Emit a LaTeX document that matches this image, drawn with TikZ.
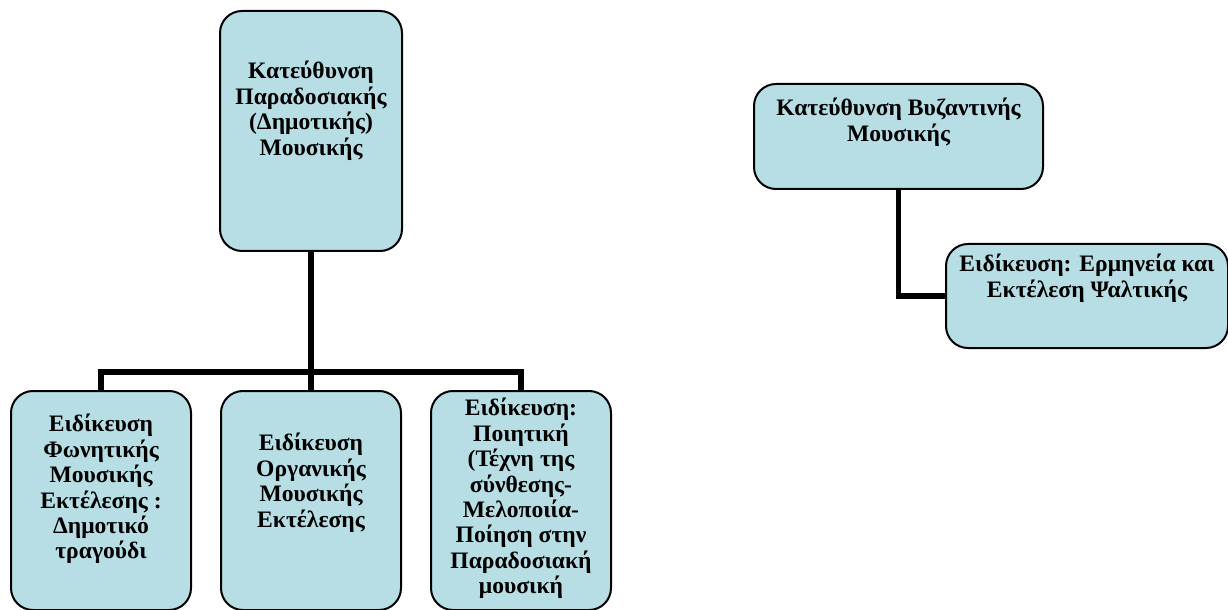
\documentclass[tikz,border=0pt]{standalone}
\usepackage{fontspec}
\setmainfont{Liberation Serif}
\usepackage{tikz}
\usetikzlibrary{positioning}
\definecolor{boxfill}{RGB}{183,222,228}

\begin{document}
\begin{tikzpicture}[x=0.5pt,y=-0.5pt,
  box/.style={draw,line width=1pt,fill=boxfill,rounded corners=11pt,inner sep=0pt,anchor=north west},
  txt/.style={inner sep=0pt,align=center,font=\fontsize{11.8}{12.7}\selectfont\bfseries},
  conn/.style={line width=2.6pt}]
\useasboundingbox (0,0) rectangle (1228,610);
\node[box,minimum width=91pt,minimum height=120pt] (trad) at (219,10) {};
\node[box,minimum width=144.5pt,minimum height=52.5pt] (byz) at (753,83) {};
\node[box,minimum width=141pt,minimum height=52pt] (psalt) at (945,243) {};
\node[box,minimum width=90pt,minimum height=109.5pt] (fon) at (10,390) {};
\node[box,minimum width=90pt,minimum height=109.5pt] (org) at (220,390) {};
\node[box,minimum width=90pt,minimum height=109.5pt] (poi) at (430,390) {};
\node[txt,below=25.5pt of trad.north] (tradtxt) {Κατεύθυνση\\Παραδοσιακής\\(Δημοτικής)\\Μουσικής};
\node[txt,below=7.5pt of byz.north] (byztxt) {Κατεύθυνση Βυζαντινής\\Μουσικής};
\node[txt,below=5.5pt of psalt.north] (psalttxt) {Ειδίκευση: Ερμηνεία και\\Εκτέλεση Ψαλτικής};
\node[txt,below=12pt of fon.north] (fontxt) {Ειδίκευση\\Φωνητικής\\Μουσικής\\Εκτέλεσης :\\Δημοτικό\\τραγούδι};
\node[txt,below=21.5pt of org.north] (orgtxt) {Ειδίκευση\\Οργανικής\\Μουσικής\\Εκτέλεσης};
\node[txt,below=4pt of poi.north] (poitxt) {Ειδίκευση:\\Ποιητική\\(Τέχνη της\\σύνθεσης-\\Μελοποιία-\\Ποίηση στην\\Παραδοσιακή\\μουσική};
\path (0,372) coordinate (bar);
\coordinate (hub) at (trad.south |- bar);
\draw[conn] (trad.south) -- (hub);
\draw[conn] (hub) -| (fon.north);
\draw[conn] (hub) -- (org.north);
\draw[conn] (hub) -| (poi.north);
\draw[conn] (byz.south) |- (psalt.west);
\end{tikzpicture}
\end{document}
